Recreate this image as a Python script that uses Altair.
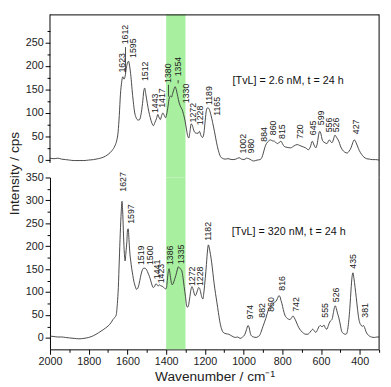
import altair as alt
import pandas as pd

# ---------------- data ----------------
top_wn = [2000,1980,1960,1940,1920,1900,1875,1850,1825,1800,1775,1750,1725,1700,1680,1665,1655,1648,1642,1636,1630,1624,1618,1612,1606,1600,1594,1588,1582,1576,1570,1563,1555,1545,1537,1530,1522,1515,1511,1505,1497,1490,1482,1474,1466,1458,1450,1443,1436,1430,1423,1417,1410,1403,1397,1390,1384,1378,1372,1366,1360,1354,1348,1340,1333,1325,1318,1310,1303,1296,1289,1283,1277,1271,1265,1258,1250,1242,1235,1228,1220,1212,1205,1198,1192,1186,1180,1174,1168,1160,1150,1140,1130,1120,1110,1095,1080,1060,1040,1023,1010,998,985,973,960,948,930,915,905,898,890,882,872,862,852,840,830,823,815,807,798,790,775,757,740,723,710,698,680,665,655,645,636,627,618,612,606,600,595,590,580,570,562,557,550,543,535,528,522,515,508,500,490,478,465,455,445,436,428,420,412,402,390,380,365,350,335,318,300]
top_int = [4,3,4,2,1,0,-1,-1,-1,0,1,3,6,12,20,30,42,60,95,140,165,177,172,178,195,206,210,198,178,150,125,102,90,85,86,97,120,148,153,140,120,104,90,79,73,80,88,97,90,86,95,100,95,90,98,115,132,136,134,142,150,156,150,135,122,113,108,97,85,68,52,47,60,77,74,64,58,57,57,61,52,48,57,85,106,111,110,104,95,80,60,38,20,8,4,2,3,1,2,5,2,1,4,3,0,-2,0,1,6,15,27,35,40,43,41,40,36,35,38,40,34,29,27,26,30,33,31,29,26,22,28,40,32,26,38,55,61,55,45,40,37,35,40,43,39,37,45,53,50,45,40,30,22,17,15,19,26,37,43,38,30,20,12,7,3,2,1,1,0]

bot_wn = [2000,1980,1960,1940,1920,1900,1875,1850,1825,1800,1775,1750,1725,1700,1685,1675,1665,1658,1652,1647,1642,1637,1632,1628,1624,1620,1616,1612,1608,1603,1599,1596,1592,1588,1583,1578,1572,1567,1560,1553,1547,1542,1536,1530,1523,1517,1510,1503,1497,1490,1483,1475,1467,1460,1453,1447,1441,1435,1429,1423,1417,1410,1404,1399,1394,1389,1385,1380,1375,1369,1363,1357,1350,1343,1337,1331,1325,1319,1313,1307,1300,1295,1290,1285,1279,1272,1267,1262,1256,1250,1244,1238,1232,1227,1221,1215,1210,1205,1198,1192,1186,1182,1177,1171,1165,1158,1152,1145,1138,1130,1122,1114,1105,1090,1077,1060,1043,1030,1018,1005,993,985,977,971,965,958,948,935,925,918,908,900,893,885,878,872,864,856,848,840,832,825,818,813,807,802,795,787,778,768,760,752,745,738,730,720,710,702,690,678,668,658,650,643,636,627,618,610,603,595,585,578,570,562,555,548,542,536,531,526,521,515,508,500,493,485,475,468,460,455,450,445,440,435,430,424,418,412,406,400,393,387,381,375,368,360,350,340,325,310,300]
bot_int = [4,3,2,2,1,0,-1,-2,-1,1,5,11,18,26,33,40,45,50,75,110,170,228,275,298,270,222,185,168,185,210,237,238,215,188,168,152,136,124,113,106,108,114,125,138,148,152,152,150,145,138,130,118,110,112,118,116,113,116,114,113,112,109,107,108,125,145,151,140,125,116,119,127,136,148,155,153,150,146,132,112,90,72,67,70,85,105,112,108,98,92,96,104,110,108,98,88,85,100,130,160,192,203,196,182,165,140,118,97,78,55,34,20,12,9,8,4,1,2,-1,2,8,18,27,22,10,4,2,1,3,5,15,25,33,43,53,61,66,71,75,78,80,86,92,91,82,75,62,50,44,41,40,44,48,44,37,27,19,15,10,8,8,12,16,19,16,12,18,25,27,24,28,22,19,27,35,38,42,55,66,70,64,54,44,28,14,10,8,9,25,45,72,105,132,142,130,110,88,65,45,33,28,25,27,23,14,8,4,2,1,2,2]

top_lbl = ["1623","1612","1595","1512","1443","1417","1380","1354","1330","1272","1228","1189","1165","1002","980","884","860","815","720","645","599","556","526","427"]
top_lbl_x = [1627,1613,1573,1510,1457,1423,1388,1338,1297,1263,1227,1177,1135,1002,960,893,848,802,710,643,602,557,523,421]
top_lbl_y = [186,246,217,168,100,111,164,178,121,80,74,117,94,14,14,39,53,45,45,53,74,59,59,55]

bot_lbl = ["1627","1597","1519","1500","1441","1423","1386","1335","1272","1228","1182","974","882","860","816","742","555","526","435","381"]
bot_lbl_x = [1623,1580,1527,1482,1448,1425,1380,1322,1265,1227,1182,968,905,860,802,727,577,522,435,372]
bot_lbl_y = [319,249,159,159,128,119,159,161,113,113,212,40,44,57,103,57,44,78,151,44]

# leader lines (wavenumber, from, to)
lead_x = [1610, 1388, 1338]
lead_y1 = [186, 135, 163]
lead_y2 = [240, 160, 170]

band_from, band_to = 1400, 1300
top_note = "[TvL] = 2.6 nM, t = 24 h"
bot_note = "[TvL] = 320 nM, t = 24 h"
note_x = [770, 767]
note_y = [168, 230]
y_title = "Intensity / cps"
x_title = "Wavenumber / cm\u207B\u00B9"

top_ticks = list(range(0, 276, 25))
bot_ticks = list(range(0, 351, 25))
x_ticks = list(range(300, 2001, 100))

# ---------------- chart ----------------
W, H1, H2 = 337, 167, 176
GREEN = "#a8efa0"
LINE = "#333333"
FONT = "Liberation Sans"

xs = alt.Scale(domain=[300, 2000], reverse=True, nice=False, zero=False)
ys_top = alt.Scale(domain=[-37, 309.5], nice=False, zero=False)
ys_bot = alt.Scale(domain=[-25, 350], nice=False, zero=False)

major50 = "datum.value % 50 === 0"
tick_sz = {"condition": {"test": major50, "value": 5}, "value": 3}

ax_top_y = alt.Axis(values=top_ticks, labelExpr=f"{major50} ? datum.label : ''", tickSize=tick_sz,
                    domain=False, grid=False, labelOverlap=False, labelFlush=False, title=None, format="d")
ax_bot_y = alt.Axis(values=bot_ticks, labelExpr=f"{major50} ? datum.label : ''", tickSize=tick_sz,
                    grid=False, labelOverlap=False, labelFlush=False, title=None, format="d")
ax_bot_x = alt.Axis(values=x_ticks, labelExpr="datum.value % 200 === 0 ? datum.label : ''",
                    tickSize={"condition": {"test": "datum.value % 200 === 0", "value": 5}, "value": 3},
                    grid=False, labelOverlap=False, labelFlush=False, format="d", title=x_title)

top_df = pd.DataFrame({"wn": top_wn, "v": top_int})
bot_df = pd.DataFrame({"wn": bot_wn, "v": bot_int})
top_l = pd.DataFrame({"t": top_lbl, "x": top_lbl_x, "y": top_lbl_y})
bot_l = pd.DataFrame({"t": bot_lbl, "x": bot_lbl_x, "y": bot_lbl_y})
lead_df = pd.DataFrame({"x": lead_x, "y1": lead_y1, "y2": lead_y2})
band_df = pd.DataFrame({"a": [band_from], "b": [band_to]})


def band(h, xax):
    return alt.Chart(band_df).mark_rect(color=GREEN).encode(
        x=alt.X("a:Q", scale=xs, axis=xax), x2="b:Q",
        y=alt.value(0), y2=alt.value(h))


def labels(df, ys, xax, yax):
    return alt.Chart(df).mark_text(angle=270, align="left", baseline="middle",
                                   font=FONT, fontSize=9, color="#222").encode(
        x=alt.X("x:Q", scale=xs, axis=xax),
        y=alt.Y("y:Q", scale=ys, axis=yax), text="t:N")


def note(txt, i, ys, xax, yax):
    return alt.Chart(pd.DataFrame({"x": [note_x[i]], "y": [note_y[i]], "t": [txt]})).mark_text(
        align="center", baseline="middle", font=FONT, fontSize=11, color="#111").encode(
        x=alt.X("x:Q", scale=xs, axis=xax), y=alt.Y("y:Q", scale=ys, axis=yax), text="t:N")


top_line = alt.Chart(top_df).mark_line(color=LINE, strokeWidth=0.9, interpolate="monotone").encode(
    x=alt.X("wn:Q", scale=xs, axis=None),
    y=alt.Y("v:Q", scale=ys_top, axis=ax_top_y))

top_leads = alt.Chart(lead_df).mark_rule(color="#222", strokeWidth=0.8).encode(
    x=alt.X("x:Q", scale=xs, axis=None), y=alt.Y("y1:Q", scale=ys_top, axis=ax_top_y), y2="y2:Q")

frame = alt.Chart(pd.DataFrame({"k": [0]})).mark_rule(color="black", strokeWidth=1)
top_axis_line = alt.Chart(pd.DataFrame({"y1": [-6], "y2": [309.5]})).mark_rule(
    color="black", strokeWidth=1).encode(x=alt.value(0), y=alt.Y("y1:Q", scale=ys_top, axis=ax_top_y), y2="y2:Q")

y_title_mark = alt.Chart(pd.DataFrame({"t": [y_title]})).mark_text(
    angle=270, align="center", baseline="middle", font=FONT, fontSize=14, color="#222").encode(
    x=alt.value(-36), y=alt.value(H1 - 4), text="t:N")

top = alt.layer(
    band(H1, None),
    top_line,
    labels(top_l, ys_top, None, ax_top_y),
    top_leads,
    note(top_note, 0, ys_top, None, ax_top_y),
    frame.encode(x=alt.value(0), x2=alt.value(W), y=alt.value(0.5)),
    frame.encode(x=alt.value(W), y=alt.value(0), y2=alt.value(H1)),
    top_axis_line,
    y_title_mark,
).properties(width=W, height=H1)

bot_line = alt.Chart(bot_df).mark_line(color=LINE, strokeWidth=0.9, interpolate="monotone").encode(
    x=alt.X("wn:Q", scale=xs, axis=ax_bot_x),
    y=alt.Y("v:Q", scale=ys_bot, axis=ax_bot_y))

bot = alt.layer(
    band(H2, ax_bot_x),
    bot_line,
    labels(bot_l, ys_bot, ax_bot_x, ax_bot_y),
    note(bot_note, 1, ys_bot, ax_bot_x, ax_bot_y),
    frame.encode(x=alt.value(W), y=alt.value(0), y2=alt.value(H2)),
).properties(width=W, height=H2)

chart = alt.vconcat(top, bot, spacing=0, bounds="flush").configure_view(stroke=None).configure_axis(
    labelFont=FONT, labelFontSize=11, labelColor="#222", labelPadding=2,
    titleFont=FONT, titleFontSize=14, titleFontWeight="normal", titleColor="#222", titlePadding=3,
    domainColor="black", tickColor="black", domainWidth=1, tickWidth=1,
).properties(padding={"left": 0, "top": 1, "right": 2, "bottom": 0})

chart.save("out.html", embed_options={"renderer": "svg", "actions": False})
